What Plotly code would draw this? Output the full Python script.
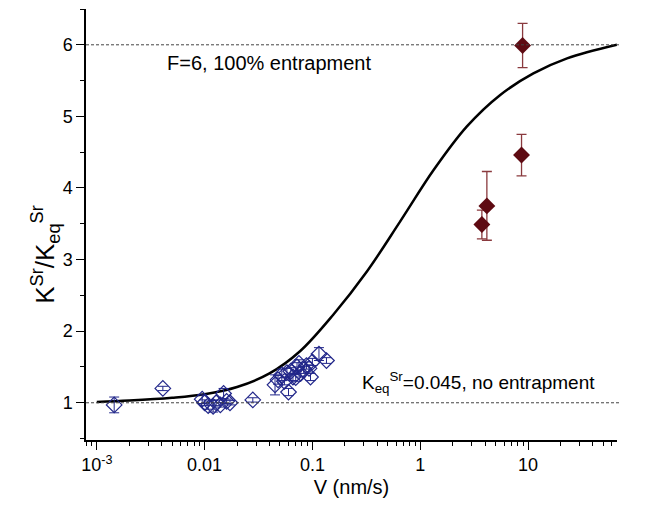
import plotly.graph_objects as go

# Model curve
curve_v = [0.001, 0.002, 0.005, 0.01, 0.02, 0.04, 0.0767, 0.156, 0.319, 0.65, 1.33, 2.71, 5.52, 11.2, 23.0, 66.8]
curve_y = [1.01, 1.03, 1.07, 1.12, 1.22, 1.41, 1.72, 2.23, 2.83, 3.53, 4.25, 4.86, 5.30, 5.60, 5.81, 6.0]

# Blue open diamonds
blue_v = [0.00145, 0.0041, 0.0095, 0.0100, 0.0108, 0.0120, 0.0128, 0.0140, 0.0150, 0.0160, 0.0172, 0.028,
          0.045, 0.048, 0.052, 0.055, 0.058, 0.060, 0.063, 0.066, 0.070, 0.072, 0.075, 0.078, 0.083,
          0.088, 0.093, 0.096, 0.100, 0.115, 0.135]
blue_y = [0.97, 1.20, 1.05, 1.00, 0.96, 0.95, 1.00, 0.97, 1.13, 1.02, 1.00, 1.04,
          1.25, 1.32, 1.39, 1.30, 1.42, 1.15, 1.44, 1.36, 1.35, 1.50, 1.55, 1.41, 1.46,
          1.52, 1.48, 1.36, 1.57, 1.68, 1.59]
blue_err = [0.11, 0.03, 0.06, 0.04, 0.05, 0.08, 0.04, 0.03, 0.07, 0.03, 0.03, 0.03,
            0.14, 0.06, 0.08, 0.05, 0.06, 0.05, 0.05, 0.05, 0.05, 0.06, 0.05, 0.05, 0.05,
            0.05, 0.05, 0.05, 0.05, 0.09, 0.04]

# Dark red filled diamonds
red_v = [3.73, 4.15, 8.7, 8.9]
red_y = [3.49, 3.75, 4.46, 5.99]
red_err = [0.20, 0.48, 0.29, 0.31]

x_tickvals = [0.001, 0.01, 0.1, 1, 10]
x_ticktext = ["10<sup>-3</sup>", "0.01", "0.1", "1", "10"]
x_minor = [m * 10 ** e for e in range(-4, 2) for m in range(2, 10)]

font_family = "Liberation Sans, Arial, sans-serif"

fig = go.Figure()
fig.add_trace(go.Scatter(x=curve_v, y=curve_y, mode="lines", line=dict(color="black", width=2.5, shape="spline"),
                         showlegend=False, hoverinfo="skip"))
fig.add_trace(go.Scatter(x=blue_v, y=blue_y, mode="markers",
                         marker=dict(symbol="diamond-open", size=12, color="#22278a", line=dict(width=1.2, color="#22278a")),
                         error_y=dict(type="data", array=blue_err, color="#22278a", thickness=1, width=5),
                         showlegend=False))
fig.add_trace(go.Scatter(x=red_v, y=red_y, mode="markers",
                         marker=dict(symbol="diamond", size=13, color="#5e0a12"),
                         error_y=dict(type="data", array=red_err, color="#8a3a3e", thickness=1.3, width=5),
                         showlegend=False))

for yv in [1, 6]:
    fig.add_shape(type="line", xref="paper", yref="y", x0=0, x1=1.006, y0=yv, y1=yv,
                  line=dict(color="#444444", width=1, dash="3px,2px"))

fig.add_annotation(x=-2.367, y=5.75, xref="x", yref="y", text="F=6, 100% entrapment", showarrow=False,
                   xanchor="left", yanchor="middle", font=dict(size=20, color="black", family=font_family))
fig.add_annotation(x=-0.558, y=1.28, xref="x", yref="y",
                   text="K<sub>eq</sub><sup>Sr</sup>=0.045, no entrapment", showarrow=False,
                   xanchor="left", yanchor="middle", font=dict(size=19, color="black", family=font_family))
# y-axis title
fig.add_annotation(x=-0.077, y=0.43, xref="paper", yref="paper",
                   text="K<sup>Sr</sup>/K<sub>eq</sub><sup>Sr</sup>", showarrow=False, textangle=-90,
                   xanchor="center", yanchor="middle", font=dict(size=26, color="black", family=font_family))

fig.update_layout(
    width=646, height=511,
    margin=dict(l=78, r=37, t=1, b=79),
    plot_bgcolor="white", paper_bgcolor="white",
    font=dict(family=font_family, size=18, color="black"),
    xaxis=dict(type="log", range=[-3.1, 1.825], showline=True, linecolor="black", linewidth=1.5,
               ticks="outside", ticklen=8, tickwidth=1.3, tickcolor="black",
               tickvals=x_tickvals, ticktext=x_ticktext, showgrid=False, zeroline=False,
               minor=dict(tickvals=x_minor, ticks="outside", ticklen=4, tickwidth=1, tickcolor="black", showgrid=False),
               title=dict(text="V (nm/s)", font=dict(size=20), standoff=6), tickfont=dict(size=18)),
    yaxis=dict(range=[0.48, 6.5], showline=True, linecolor="black", linewidth=1.5,
               ticks="outside", ticklen=8, tickwidth=1.3, tickcolor="black",
               tickvals=[1, 2, 3, 4, 5, 6], showgrid=False, zeroline=False,
               minor=dict(dtick=0.5, ticks="outside", ticklen=4, tickwidth=1, tickcolor="black", showgrid=False),
               tickfont=dict(size=18)),
)

fig.write_html("out.html")
